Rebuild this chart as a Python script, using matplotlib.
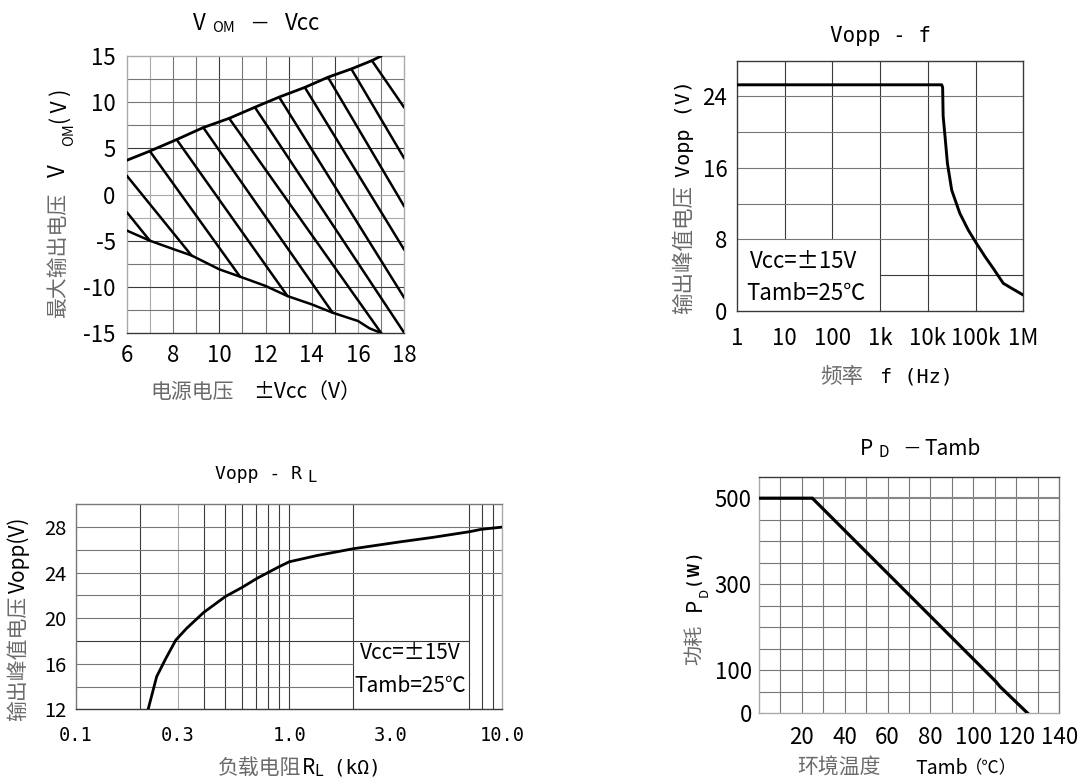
import matplotlib
matplotlib.use('Agg')
import matplotlib.pyplot as plt
import numpy as np

# ---------------- data ----------------
# Panel 1: VOM - Vcc
vom_upper_x = [6, 7, 8.16, 9.31, 10.43, 11.54, 12.59, 13.7, 14.7, 15.71, 16.6, 17.0]
vom_upper_y = [3.7, 4.7, 5.95, 7.25, 8.25, 9.45, 10.55, 11.6, 12.7, 13.6, 14.5, 15.0]
vom_lower_x = [6, 7, 8, 8.8, 10, 10.9, 12, 12.95, 14, 14.9, 16, 16.5, 17.0]
vom_lower_y = [-3.9, -5.0, -5.9, -6.6, -8.1, -8.9, -9.9, -11.0, -11.9, -12.8, -13.7, -14.5, -15.0]
hatch_x0 = [6, 6, 7, 8.16, 9.31, 10.43, 11.54, 12.59, 13.7, 14.7, 15.71, 16.6]
hatch_y0 = [2.05, -1.9, 4.7, 5.95, 7.25, 8.25, 9.45, 10.55, 11.6, 12.7, 13.6, 14.5]
hatch_x1 = [8.8, 7.0, 10.9, 12.95, 14.9, 17.0, 18, 18, 18, 18, 18, 18]
hatch_y1 = [-6.6, -5.0, -8.9, -11.0, -12.8, -15.0, -15.0, -11.2, -6.0, -1.3, 3.9, 9.4]
p1_xticks = [6, 8, 10, 12, 14, 16, 18]
p1_yticks = [15, 10, 5, 0, -5, -10, -15]

# Panel 2: Vopp - f
freq = [1, 19500, 20400, 20900, 22900, 25700, 31600, 46800, 70800, 1e5, 1.58e5, 2.34e5, 3.8e5, 6.17e5, 1e6]
vopp_f = [25.3, 25.3, 25.0, 21.8, 19.5, 16.5, 13.5, 10.9, 9.0, 7.7, 6.05, 4.75, 3.07, 2.4, 1.75]
p2_xticks = [1, 10, 100, 1e3, 1e4, 1e5, 1e6]
p2_xlabels = ['1', '10', '100', '1k', '10k', '100k', '1M']
p2_yticks = [0, 8, 16, 24]

# Panel 3: Vopp - RL
rl = [0.218, 0.239, 0.264, 0.294, 0.330, 0.397, 0.502, 0.601, 0.707, 0.893, 1.0, 1.35, 2.0, 3.31, 4.74, 7.05, 7.95, 10.0]
vopp_rl = [12.0, 14.87, 16.47, 18.08, 19.1, 20.5, 21.9, 22.7, 23.5, 24.5, 24.95, 25.5, 26.1, 26.7, 27.1, 27.6, 27.8, 28.0]
p3_xticks = [0.1, 0.3, 1.0, 3.0, 10.0]
p3_xlabels = ['0.1', '0.3', '1.0', '3.0', '10.0']
p3_yticks = [12, 16, 20, 24, 28]

# Panel 4: PD - Tamb
tamb = [0, 25, 110.5, 112.4, 125.3]
pd_w = [500, 500, 73.5, 62, 0]
p4_xticks = [20, 40, 60, 80, 100, 120, 140]
p4_yticks = [0, 100, 300, 500]

# ---------------- setup ----------------
W, H = 1083, 783
fig = plt.figure(figsize=(W / 100, H / 100), dpi=100)
fig.patch.set_facecolor('white')

NARROW = ['Noto Sans CJK SC', 'DejaVu Sans']
CJK = ['Noto Sans CJK SC', 'DejaVu Sans']
MONO = ['DejaVu Sans Mono', 'Noto Sans CJK SC', 'DejaVu Sans']
GTXT = '#6a6a6a'
GD = '#3a3a3a'   # dark grid
GM = '#777777'   # mid grid
GL = '#aaaaaa'   # light grid
LW_G = 0.8
LW_C = 1.8


def add_ax(l, t, r, b):
    ax = fig.add_axes([l / W, 1 - b / H, (r - l) / W, (b - t) / H])
    ax.tick_params(length=0)
    return ax


def ftext(x, y, s, **kw):
    fig.text(x / W, 1 - y / H, s, **kw)


def spines(ax, colors):
    for k, c in zip(['left', 'right', 'top', 'bottom'], colors):
        ax.spines[k].set_color(c)
        ax.spines[k].set_linewidth(1.0)


# ================= Panel 1 =================
ax1 = add_ax(126.7, 56, 404.3, 333)
ax1.set_xlim(6, 18)
ax1.set_ylim(-15, 15)
dark_x = [10, 13, 15]
light_x = [7, 16, 18]
for xv in np.arange(7, 18, 1):
    c = GD if xv in dark_x else (GL if xv in light_x else GM)
    ax1.axvline(xv, color=c, lw=LW_G, zorder=1)
dark_y = [5, -5, -10]
light_y = [0, -2.5]
for yv in np.arange(-12.5, 15, 2.5):
    c = GD if yv in dark_y else (GL if yv in light_y else GM)
    ax1.axhline(yv, color=c, lw=LW_G, zorder=1)
spines(ax1, [GL, GL, GL, GD])
ax1.plot(vom_upper_x, vom_upper_y, color='black', lw=LW_C + 0.2, zorder=3, solid_capstyle='round')
ax1.plot(vom_lower_x, vom_lower_y, color='black', lw=LW_C, zorder=3, solid_capstyle='round')
for xa, ya, xb, yb in zip(hatch_x0, hatch_y0, hatch_x1, hatch_y1):
    ax1.plot([xa, xb], [ya, yb], color='black', lw=LW_C, zorder=3, solid_capstyle='round')
ax1.set_xticks(p1_xticks)
ax1.set_xticklabels([str(v) for v in p1_xticks], family=NARROW, fontsize=16)
ax1.set_yticks(p1_yticks)
ax1.set_yticklabels([str(v) for v in p1_yticks], family=NARROW, fontsize=16)
ax1.tick_params(axis='x', pad=8)
ax1.tick_params(axis='y', pad=8)

# title: V OM — Vcc
ftext(193, 30, 'V', family=NARROW, fontsize=16, va='baseline', ha='left')
ftext(212, 32, 'OM', family=NARROW, fontsize=10.5, va='baseline', ha='left')
ftext(251, 28, '—', family=NARROW, fontsize=13, va='baseline', ha='left')
ftext(285, 30, 'Vcc', family=NARROW, fontsize=16, va='baseline', ha='left')
# y label
ftext(58, 318, '最大输出电压', family=CJK, fontsize=15, color=GTXT, rotation=90, ha='center', va='bottom')
ftext(58, 177, 'V', family=NARROW, fontsize=16, rotation=90, ha='center', va='bottom')
ftext(69, 146, 'OM', family=NARROW, fontsize=10.5, rotation=90, ha='center', va='bottom')
ftext(61, 124, '( V )', family=NARROW, fontsize=15, rotation=90, ha='center', va='bottom')
# x label
ftext(150, 392, '电源电压', family=CJK, fontsize=15, color=GTXT, ha='left', va='center')
ftext(253, 392, '±Vcc（V）', family=NARROW, fontsize=15, ha='left', va='center')

# ================= Panel 2 =================
ax2 = add_ax(737, 60.7, 1023.3, 310.7)
ax2.set_xscale('log')
ax2.set_xlim(1, 1e6)
ax2.set_ylim(0, 28)
for xv in [10, 100]:
    ax2.vlines(xv, 8, 28, color=GD, lw=LW_G, zorder=1)
for xv in [1e3, 1e4, 1e5]:
    ax2.axvline(xv, color=GD, lw=LW_G, zorder=1)
for yv in [8, 12, 16, 20, 24]:
    ax2.axhline(yv, color=GM, lw=LW_G, zorder=1)
ax2.hlines(4, 1e3, 1e6, color=GD, lw=LW_G, zorder=1)
ax2.xaxis.set_minor_locator(matplotlib.ticker.NullLocator())
spines(ax2, [GD, GD, GD, GD])
ax2.plot(freq, vopp_f, color='black', lw=LW_C + 0.3, zorder=3)
ax2.set_xticks(p2_xticks)
ax2.set_xticklabels(p2_xlabels, family=NARROW, fontsize=16)
ax2.set_yticks(p2_yticks)
ax2.set_yticklabels([str(v) for v in p2_yticks], family=NARROW, fontsize=16)
ax2.tick_params(axis='x', pad=12)
ax2.tick_params(axis='y', pad=7)
ftext(880, 42, 'Vopp - f', family=MONO, fontsize=15, ha='center', va='baseline')
ftext(804, 262, 'Vcc=±15V', family=NARROW, fontsize=16, ha='center', va='center')
ftext(806, 293, 'Tamb=25℃', family=NARROW, fontsize=16, ha='center', va='center')
ftext(684, 314, '输出峰值电压', family=CJK, fontsize=15.5, color=GTXT, rotation=90, ha='center', va='bottom')
ftext(685, 177, 'Vopp (V)', family=MONO, fontsize=14.5, rotation=90, ha='center', va='bottom')
ftext(820, 377, '频率', family=CJK, fontsize=15.5, color=GTXT, ha='left', va='center')
ftext(868, 377, ' f (Hz)', family=MONO, fontsize=14.5, ha='left', va='center')

# ================= Panel 3 =================
ax3 = add_ax(76, 504.3, 502.3, 709.3)
ax3.set_xscale('log')
ax3.set_xlim(0.1, 10)
ax3.set_ylim(12, 30)
ax3.xaxis.set_minor_locator(matplotlib.ticker.NullLocator())
for xv in [0.2, 0.4, 0.5, 0.6, 0.7, 0.8, 0.9, 1.0, 2.0, 7.0, 8.0, 9.0]:
    ax3.axvline(xv, color=GD, lw=LW_G, zorder=1)
ax3.axvline(0.3, color=GL, lw=LW_G, zorder=1)
for yv in [14, 16, 20]:
    ax3.hlines(yv, 0.1, 2.0, color=GM, lw=LW_G, zorder=1)
ax3.hlines(18, 0.1, 7.0, color=GD, lw=LW_G, zorder=1)
for yv in [22, 24, 26, 28]:
    ax3.axhline(yv, color=GM, lw=LW_G, zorder=1)
spines(ax3, [GM, GL, GM, GD])
ax3.plot(rl, vopp_rl, color='black', lw=LW_C + 0.2, zorder=3)
ax3.set_xticks(p3_xticks)
ax3.set_xticklabels(p3_xlabels, family=MONO, fontsize=13.5)
ax3.set_yticks(p3_yticks)
ax3.set_yticklabels([str(v) for v in p3_yticks], family=NARROW, fontsize=14.5)
ax3.tick_params(axis='x', pad=12)
ax3.tick_params(axis='y', pad=7)
ftext(215, 479, 'Vopp - R', family=MONO, fontsize=13, ha='left', va='baseline')
ftext(307, 482, 'L', family=NARROW, fontsize=12, ha='left', va='baseline')
ftext(410, 653, 'Vcc=±15V', family=NARROW, fontsize=15, ha='center', va='center')
ftext(410, 686, 'Tamb=25℃', family=NARROW, fontsize=15, ha='center', va='center')
ftext(18, 721, '输出峰值电压', family=CJK, fontsize=15, color=GTXT, rotation=90, ha='center', va='bottom')
ftext(19, 593, 'Vopp(V)', family=NARROW, fontsize=15, rotation=90, ha='center', va='bottom')
ftext(218, 768, '负载电阻', family=CJK, fontsize=15, color=GTXT, ha='left', va='center')
ftext(302, 768, 'R', family=NARROW, fontsize=15, ha='left', va='center')
ftext(314, 771, 'L', family=NARROW, fontsize=11.5, ha='left', va='center')
ftext(322, 768, ' (kΩ)', family=MONO, fontsize=14, ha='left', va='center')

# ================= Panel 4 =================
ax4 = add_ax(758.7, 476.7, 1059.3, 713.3)
ax4.set_xlim(0, 140)
ax4.set_ylim(0, 550)
for xv in np.arange(10, 140, 10):
    ax4.axvline(xv, color=GM, lw=LW_G, zorder=1)
for yv in np.arange(50, 550, 50):
    if yv == 500:
        ax4.axhline(yv, color='#888888', lw=1.5, zorder=1)
    else:
        ax4.axhline(yv, color=GM, lw=LW_G, zorder=1)
spines(ax4, [GL, GM, GD, GL])
ax4.plot(tamb, pd_w, color='black', lw=LW_C + 0.5, zorder=3)
ax4.set_xticks(p4_xticks)
ax4.set_xticklabels([str(v) for v in p4_xticks], family=NARROW, fontsize=16)
ax4.set_yticks(p4_yticks)
ax4.set_yticklabels([str(v) for v in p4_yticks], family=NARROW, fontsize=16)
ax4.tick_params(axis='x', pad=9)
ax4.tick_params(axis='y', pad=5)
ftext(860, 455, 'P', family=NARROW, fontsize=15, ha='left', va='baseline')
ftext(879, 457, 'D', family=NARROW, fontsize=11, ha='left', va='baseline')
ftext(904, 452, '—', family=NARROW, fontsize=12, ha='left', va='baseline')
ftext(924, 455, 'Tamb', family=NARROW, fontsize=15, ha='left', va='baseline')
ftext(695, 665, '功耗', family=CJK, fontsize=14.5, color=GTXT, rotation=90, ha='center', va='bottom')
ftext(695, 611, 'P', family=NARROW, fontsize=15, rotation=90, ha='center', va='bottom')
ftext(704, 597, 'D', family=NARROW, fontsize=9.5, rotation=90, ha='center', va='bottom')
ftext(695, 586, '( W )', family=NARROW, fontsize=11, fontweight='bold', rotation=90, ha='center', va='bottom')
ftext(797, 768, '环境温度', family=CJK, fontsize=15, color=GTXT, ha='left', va='center')
ftext(915, 768, 'Tamb', family=NARROW, fontsize=14, ha='left', va='center')
ftext(965, 768, '（℃）', family=CJK, fontsize=12.5, ha='left', va='center')

fig.savefig('out.png', dpi=100, facecolor='white')
